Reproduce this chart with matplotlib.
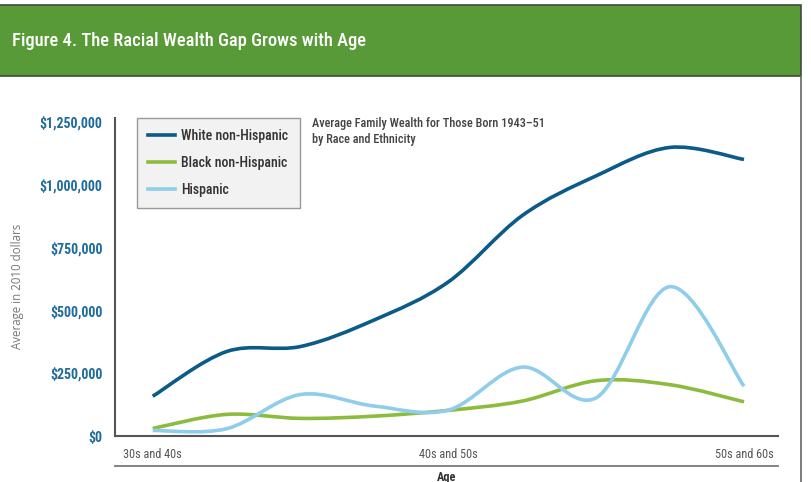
import matplotlib.pyplot as plt
import numpy as np
from matplotlib import font_manager
from matplotlib.path import Path
from matplotlib.patches import PathPatch, Rectangle
from matplotlib.lines import Line2D
from matplotlib.ticker import FuncFormatter

# pick a narrow font if one is installed
names = {f.name for f in font_manager.fontManager.ttflist}
cond = None
for n in ['Liberation Sans Narrow', 'DejaVu Sans Condensed', 'Roboto Condensed', 'Open Sans Condensed']:
    if n in names:
        cond = n
        break
if cond is None:
    cond = 'Roboto'
plt.rcParams['font.family'] = [cond, 'DejaVu Sans']

x_labels = ['30s and 40s', '40s and 50s', '50s and 60s']
x_label_pos = [0, 4, 8]
white = [158000, 336000, 356000, 462000, 613000, 877000, 1035000, 1148000, 1100000]
black = [30000, 86000, 70000, 79000, 102000, 139000, 220000, 204000, 136000]
hispanic = [22000, 29000, 165000, 119000, 103000, 274000, 152000, 594000, 198000]
series = [('White non-Hispanic', white, '#0c5a88'),
          ('Black non-Hispanic', black, '#8dbb3e'),
          ('Hispanic', hispanic, '#8fcdea')]


def smooth_path(y):
    # Catmull-Rom style bezier through the points (like spreadsheet smoothed lines)
    x = np.arange(len(y), dtype=float)
    y = np.asarray(y, dtype=float)
    verts = [(x[0], y[0])]
    codes = [Path.MOVETO]
    n = len(y)
    for i in range(n - 1):
        p0 = (x[max(i - 1, 0)], y[max(i - 1, 0)])
        p1 = (x[i], y[i])
        p2 = (x[i + 1], y[i + 1])
        p3 = (x[min(i + 2, n - 1)], y[min(i + 2, n - 1)])
        c1 = (p1[0] + (p2[0] - p0[0]) / 6, p1[1] + (p2[1] - p0[1]) / 6)
        c2 = (p2[0] - (p3[0] - p1[0]) / 6, p2[1] - (p3[1] - p1[1]) / 6)
        verts += [c1, c2, p2]
        codes += [Path.CURVE4] * 3
    return Path(verts, codes)


fig = plt.figure(figsize=(8.11, 4.82), dpi=100)

# frame and header band
fig.patches.append(Rectangle((-0.01, (482 - 76) / 482), 801 / 811 + 0.01, 71 / 482,
                             transform=fig.transFigure, facecolor='#589a37', edgecolor='#3f4a3f',
                             linewidth=1.2, zorder=0))
fig.add_artist(Line2D([801 / 811, 801 / 811], [0, (482 - 76) / 482], transform=fig.transFigure,
                      color='#666666', linewidth=1.2))
fig.text(12 / 811, 1 - 41 / 482, 'Figure 4. The Racial Wealth Gap Grows with Age',
         color='white', fontsize=13.3, fontweight='medium', va='center', ha='left')

ax = fig.add_axes([115 / 811, (482 - 436) / 482, 663 / 811, 318 / 482])
for name, vals, col in series:
    ax.add_patch(PathPatch(smooth_path(vals), facecolor='none', edgecolor=col,
                           linewidth=2.6, capstyle='butt', joinstyle='round'))
    ax.plot([], [], color=col, linewidth=2.6, label=name)

ax.set_xlim(-0.51, 8.46)
ax.set_ylim(0, 1265000)
ax.set_yticks([0, 250000, 500000, 750000, 1000000, 1250000])
ax.yaxis.set_major_formatter(FuncFormatter(lambda v, p: '${:,.0f}'.format(v)))
ax.set_xticks(x_label_pos)
ax.set_xticklabels(x_labels)
ax.tick_params(axis='y', length=0, pad=9, labelsize=10, labelcolor='#1f6b9c')
ax.tick_params(axis='x', length=0, pad=9, labelsize=8.8, labelcolor='#555555')
for lab in ax.get_yticklabels():
    lab.set_fontweight('bold')
for s in ['top', 'right']:
    ax.spines[s].set_visible(False)
for s in ['left', 'bottom']:
    ax.spines[s].set_color('#555555')
    ax.spines[s].set_linewidth(1.5)

ax.set_ylabel('Average in 2010 dollars', color='#777777', fontsize=8.3,
              family=['Open Sans', 'DejaVu Sans'])
ax.yaxis.set_label_coords(-0.137, 0.47)

# line under the category labels and axis title
fig.add_artist(Line2D([115 / 811, 778 / 811], [(482 - 466) / 482] * 2, transform=fig.transFigure,
                      color='#777777', linewidth=1.3))
fig.text((115 + 778) / 2 / 811, 1 - 477 / 482, 'Age', ha='center', va='center',
         fontsize=8.8, fontweight='bold', color='#333333')

leg = ax.legend(loc='upper left', bbox_to_anchor=(137 / 811, 1 - 118 / 482), bbox_transform=fig.transFigure,
                frameon=True, fancybox=False, fontsize=10, handlelength=1.9, labelspacing=0.92,
                borderpad=0.8, handletextpad=0.5, borderaxespad=0)
leg.get_frame().set_facecolor('#f2f2f2')
leg.get_frame().set_edgecolor('#999999')
leg.get_frame().set_linewidth(1.0)
leg.get_frame().set_alpha(1)
for t in leg.get_texts():
    t.set_color('#333333')
    t.set_fontweight('medium')

fig.text(312 / 811, 1 - 132 / 482, 'Average Family Wealth for Those Born 1943\u201351\nby Race and Ethnicity',
         ha='left', va='center', fontsize=8.8, fontweight='medium', color='#444444', linespacing=1.3)

fig.savefig('out.png', dpi=100)
